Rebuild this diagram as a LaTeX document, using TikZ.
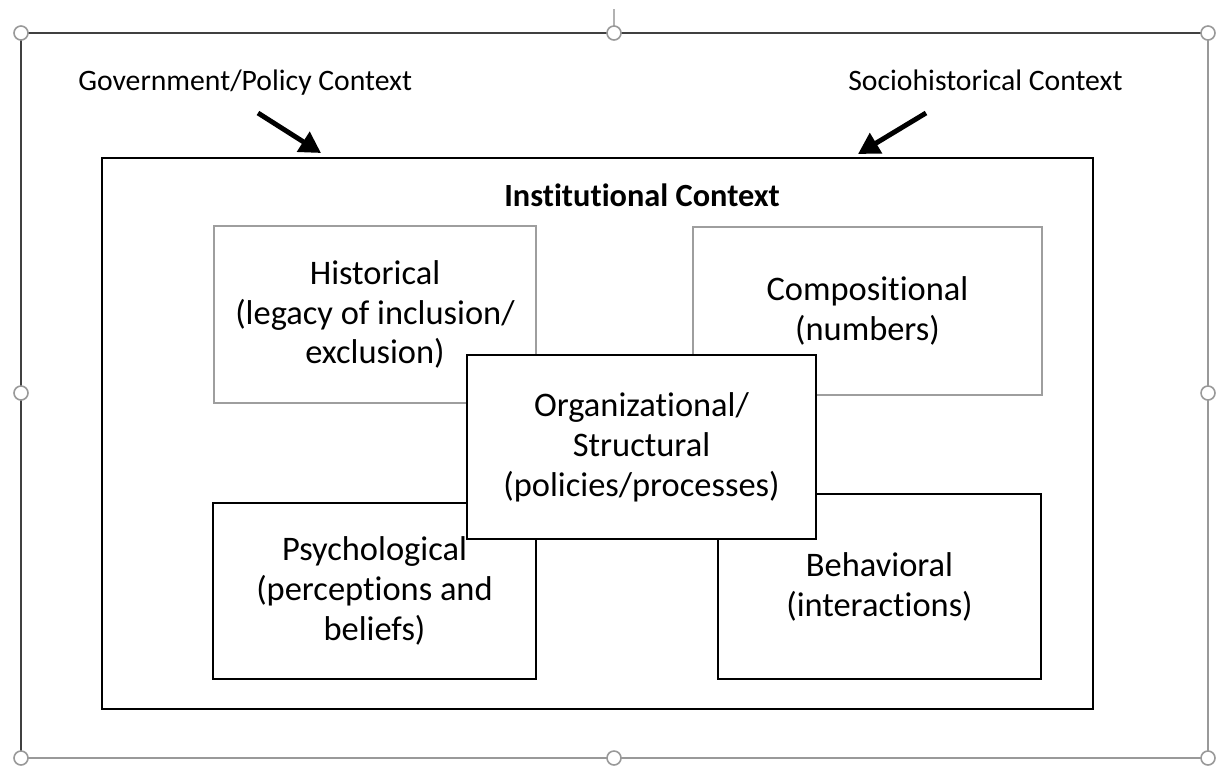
\documentclass[tikz,border=0pt]{standalone}
\usepackage{fontspec}
\setmainfont{Carlito}[Ligatures=NoCommon]
\usetikzlibrary{arrows.meta}

\tikzset{
  box/.style={draw=black, line width=1.1pt, fill=white, align=center, inner sep=0pt,
    font=\fontsize{19.6}{22.7}\selectfont},
  greybox/.style={box, draw=black!38},
  ctxlabel/.style={anchor=base west, inner sep=0pt, font=\fontsize{16.9}{20}\selectfont},
  handle/.style={draw=black!40, fill=white, line width=0.9pt},
  bigarrow/.style={line width=2.8pt, -{Triangle[length=12pt,width=13pt]}},
}

\begin{document}
\begin{tikzpicture}[x=0.02cm, y=-0.02cm]
\useasboundingbox (0,0) rectangle (1225,768);

% selection frame
\draw[black!30, line width=0.9pt] (614,9) -- (614,26);
\draw[black!75, line width=1.1pt] (21,758) -- (21,33) -- (1208,33);
\draw[black!40, line width=1.1pt] (1208,33) -- (1208,758) -- (21,758);
\filldraw[handle] (21,33) circle (7);
\filldraw[handle] (614,33) circle (7);
\filldraw[handle] (1208,33) circle (7);
\filldraw[handle] (21,393) circle (7);
\filldraw[handle] (1208,393) circle (7);
\filldraw[handle] (21,758) circle (7);
\filldraw[handle] (614,758) circle (7);
\filldraw[handle] (1208,758) circle (7);

% outer contexts
\node[ctxlabel] (govlabel) at (78,90) {Government/Policy Context};
\node[ctxlabel] (sociolabel) at (848,90) {Sociohistorical Context};

\node[box, minimum width=19.82cm, minimum height=11.02cm] (inst) at (597.5,433.5) {};
\node[anchor=base, inner sep=0pt, font=\fontsize{18.4}{20}\selectfont\bfseries] (insttitle) at (642,206) {Institutional Context};

\coordinate (govtail) at (258,113);
\coordinate (govtip) at (321,153);
\coordinate (sociotail) at (926,113);
\coordinate (sociotip) at (858,154);
\draw[bigarrow] (govtail) -- (govtip);
\draw[bigarrow] (sociotail) -- (sociotip);

% dimensions
\node[greybox, minimum width=6.44cm, minimum height=3.54cm] (historical) at (375,314.5)
  {Historical\\(legacy of inclusion/\\exclusion)};
\node[greybox, minimum width=6.98cm, minimum height=3.36cm] (compositional) at (867.5,311)
  {Compositional\\(numbers)};
\node[box, minimum width=6.46cm, minimum height=3.52cm] (psychological) at (374.5,591)
  {Psychological\\(perceptions and\\beliefs)};
\node[box, minimum width=6.46cm, minimum height=3.70cm] (behavioral) at (879.5,586.5)
  {Behavioral\\(interactions)};
\node[box, minimum width=6.98cm, minimum height=3.68cm] (organizational) at (641.5,447)
  {Organizational/\\Structural\\(policies/processes)};
\end{tikzpicture}
\end{document}
